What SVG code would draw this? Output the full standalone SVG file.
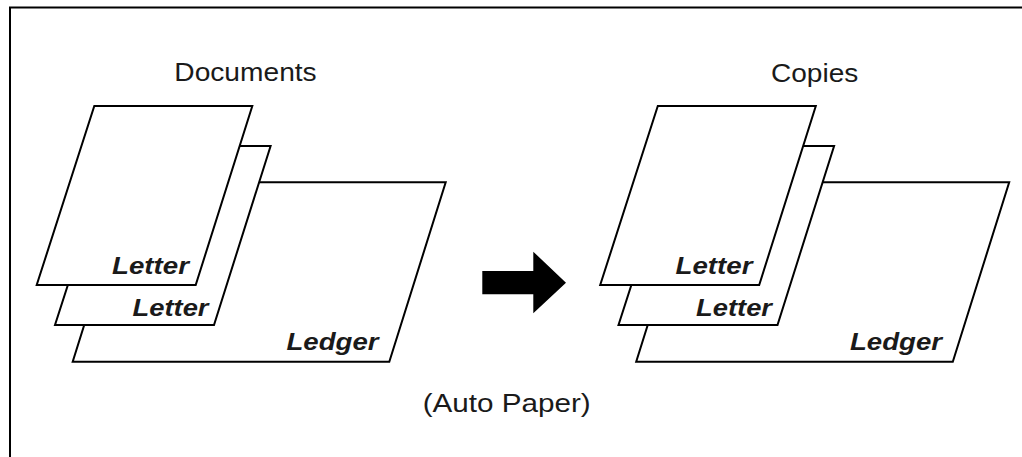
<svg xmlns="http://www.w3.org/2000/svg" width="1022" height="457" viewBox="0 0 1022 457">
  <style>
    .frame { fill: none; stroke: #000; stroke-width: 2; }
    .sheet { fill: #fff; stroke: #000; stroke-width: 2; stroke-linejoin: miter; }
    .title { font-family: "Liberation Sans", Arial, sans-serif; font-size: 25px; fill: #1a1a1a; }
    .size { font-family: "Liberation Sans", Arial, sans-serif; font-size: 24px; font-weight: bold; font-style: italic; fill: #1a1a1a; text-anchor: end; }
  </style>
  <defs>
    <!-- one stack of paper: ledger at the back, two letter sheets in front -->
    <g id="stack">
      <polygon class="sheet" points="129,182.3 445.7,182.3 389.3,361.7 72.7,361.7"/>
      <text class="size" x="378.5" y="350" textLength="92" lengthAdjust="spacingAndGlyphs">Ledger</text>
      <polygon class="sheet" points="112.6,146 270.6,146 214,325 55,325"/>
      <text class="size" x="208.5" y="316" textLength="76" lengthAdjust="spacingAndGlyphs">Letter</text>
      <polygon class="sheet" points="94.3,106 252.3,106 195.7,285 36.7,285"/>
      <text class="size" x="189" y="274" textLength="77" lengthAdjust="spacingAndGlyphs">Letter</text>
    </g>
  </defs>

  <!-- border: left and top edges -->
  <path class="frame" d="M10,457 V7.5 H1022"/>

  <g id="documents">
    <text class="title" x="174.3" y="80.7" textLength="142.4" lengthAdjust="spacingAndGlyphs">Documents</text>
    <use href="#stack"/>
  </g>

  <g id="copies">
    <text class="title" x="771" y="81.7" textLength="87.3" lengthAdjust="spacingAndGlyphs">Copies</text>
    <use href="#stack" transform="translate(563.5,0)"/>
  </g>

  <g id="connectors">
    <polygon fill="#000" points="482.3,271 533.3,271 533.3,251.7 566,282.7 533.3,313.3 533.3,294.3 482.3,294.3"/>
  </g>

  <g id="caption">
    <text class="title" x="422.7" y="412" textLength="168" lengthAdjust="spacingAndGlyphs">(Auto Paper)</text>
  </g>
</svg>
